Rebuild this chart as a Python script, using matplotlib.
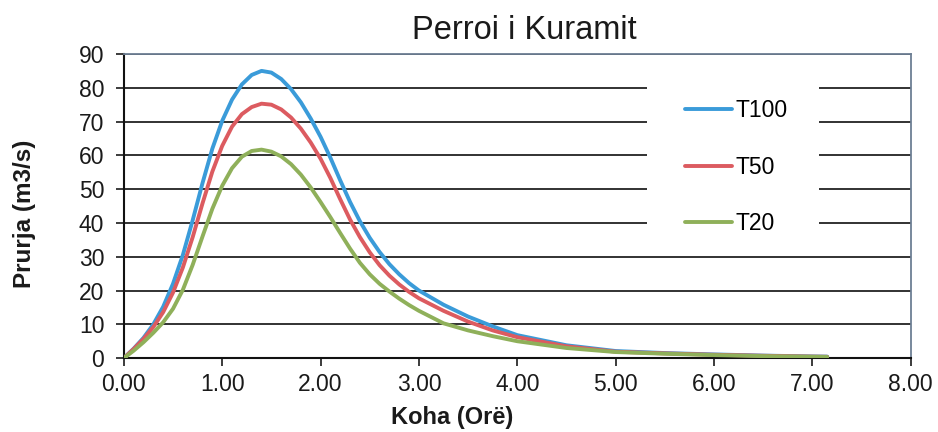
import numpy as np
import matplotlib
matplotlib.use("Agg")
import matplotlib.pyplot as plt
from matplotlib.patches import Rectangle

plt.rcParams["font.family"] = ["Liberation Sans", "DejaVu Sans"]

# Koha (ore) dhe prurjet e lexuara nga grafiku
koha = [0.0, 0.1, 0.2, 0.3, 0.4, 0.5, 0.6, 0.7, 0.8, 0.9,
        1.0, 1.1, 1.2, 1.3, 1.4, 1.5, 1.6, 1.7, 1.8, 1.9,
        2.0, 2.1, 2.2, 2.3, 2.4, 2.5, 2.6, 2.7, 2.8, 2.9,
        3.0, 3.25, 3.5, 3.75, 4.0, 4.5, 5.0, 5.5, 6.0, 6.5, 7.0, 7.15]

t100 = [0, 2.8, 6.0, 10.0, 15.2, 22.0, 30.5, 40.8, 51.8, 62.0,
        70.2, 76.5, 81.0, 83.8, 85.0, 84.5, 82.6, 79.6, 75.7, 70.9,
        65.5, 59.3, 52.6, 46.2, 40.5, 35.6, 31.4, 27.8, 24.8, 22.2,
        20.0, 15.8, 12.3, 9.4, 6.8, 3.8, 2.1, 1.5, 1.1, 0.75, 0.5, 0.45]

t50 = [0, 2.7, 5.7, 9.2, 13.6, 19.4, 26.8, 35.8, 45.8, 55.2,
       62.8, 68.5, 72.2, 74.3, 75.3, 75.0, 73.6, 71.2, 67.9, 63.8,
       59.0, 53.3, 47.0, 41.0, 35.8, 31.3, 27.5, 24.4, 21.8, 19.6,
       17.7, 14.0, 10.8, 8.2, 6.2, 3.5, 1.9, 1.4, 1.0, 0.7, 0.45, 0.4]

t20 = [0, 2.2, 4.7, 7.5, 10.6, 14.6, 20.2, 27.6, 36.0, 44.2,
       51.0, 56.2, 59.6, 61.3, 61.7, 61.1, 59.7, 57.4, 54.3, 50.5,
       46.2, 41.7, 37.0, 32.4, 28.2, 24.8, 22.0, 19.7, 17.6, 15.7,
       14.0, 10.3, 8.2, 6.5, 5.0, 3.0, 1.8, 1.3, 0.9, 0.6, 0.4, 0.35]

seri = [("T100", t100, "#3a9bd9"),
        ("T50", t50, "#dc5b60"),
        ("T20", t20, "#8fb05a")]

fig = plt.figure(figsize=(9.38, 4.32), dpi=100)
ax = fig.add_axes([0.132, 0.171, 0.839, 0.704])

for emri, q, ngjyra in seri:
    ax.plot(koha, q, color=ngjyra, linewidth=2.8, label=emri,
            solid_capstyle="round", solid_joinstyle="round", zorder=3)

ax.set_xlim(0, 8)
ax.set_ylim(0, 90)
ax.set_xticks(np.arange(0, 9, 1))
ax.set_xticklabels([f"{v:.2f}" for v in range(9)])
ax.set_yticks(np.arange(0, 91, 10))

ax.set_axisbelow(True)
ax.yaxis.grid(True, color="#222222", linewidth=1.3)
ax.tick_params(axis="both", direction="out", length=6, width=1.2,
               labelsize=16.5, colors="#1a1a1a")
ax.tick_params(axis="y", pad=8)
ax.tick_params(axis="x", pad=5)

for s in ["left", "bottom"]:
    ax.spines[s].set_color("#111111")
    ax.spines[s].set_linewidth(1.5)
for s in ["top", "right"]:
    ax.spines[s].set_color("#6d7f94")
    ax.spines[s].set_linewidth(1.3)

ax.set_xlabel("Koha (Orë)", fontsize=17, fontweight="bold", color="#1a1a1a")
ax.xaxis.set_label_coords(0.417, -0.158)
ax.set_ylabel("Prurja (m3/s)", fontsize=17.5, fontweight="bold", color="#1a1a1a")
ax.yaxis.set_label_coords(-0.112, 0.475)

fig.text(0.559, 0.91, "Perroi i Kuramit", fontsize=23.5, ha="center",
         va="baseline", color="#1a1a1a")

# sfond i bardhe per legjenden
ax.add_patch(Rectangle((0.665, 0.395), 0.218, 0.55, transform=ax.transAxes,
                       facecolor="white", edgecolor="none", zorder=2))
ax.legend(loc="center", bbox_to_anchor=(0.778, 0.628), frameon=False,
          fontsize=16.5, handlelength=2.05, handletextpad=0.15,
          labelspacing=1.45)

fig.savefig("out.png", dpi=100)
